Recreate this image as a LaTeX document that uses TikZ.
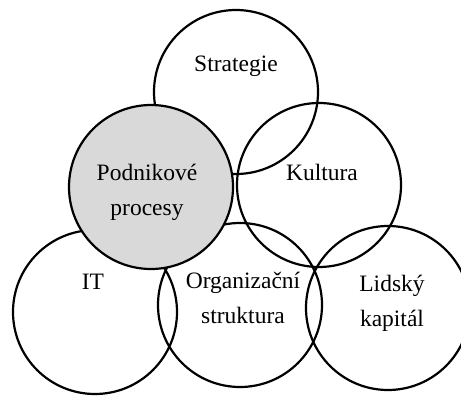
\documentclass[tikz,border=0pt]{standalone}
\usepackage{fontspec}
\setmainfont{Liberation Serif}
\begin{document}
\begin{tikzpicture}[x=0.5pt,y=-0.5pt,
  ring/.style={circle, draw=black, line width=1.1pt, minimum size=82pt, inner sep=0pt},
  core/.style={ring, fill=coregray},
  caption/.style={font=\fontsize{11.75}{17.5}\selectfont, align=center, inner sep=0pt}]
  \definecolor{coregray}{HTML}{D9D9D9}
  \useasboundingbox (0,0) rectangle (461,396);
  \clip (0,0) rectangle (461,396);
  % outline circles
  \node[ring] (strategie) at (236,92) {};
  \node[ring] (kultura)   at (319,185) {};
  \node[ring] (it)        at (95,312) {};
  \node[ring] (org)       at (240,305) {};
  \node[ring] (lidsky)    at (388,308) {};
  % central shaded circle drawn on top
  \node[core] (procesy)   at (151,187) {};
  % captions
  \node[caption] (tStrategie) at (236,66)  {Strategie};
  \node[caption] (tProcesy)   at (147,192) {Podnikové\\procesy};
  \node[caption] (tKultura)   at (322,172) {Kultura};
  \node[caption] (tIT)        at (93,282)  {IT};
  \node[caption] (tOrg)       at (243,298) {Organizační\\struktura};
  \node[caption] (tLidsky)    at (392,303) {Lidský\\kapitál};
\end{tikzpicture}
\end{document}
